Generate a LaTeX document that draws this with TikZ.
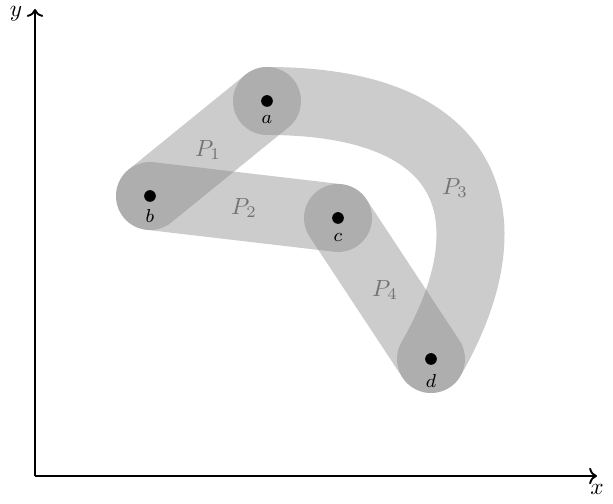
\documentclass[tikz,border=0pt]{standalone}
\usetikzlibrary{arrows.meta}
\begin{document}
\begin{tikzpicture}[x=0.4274pt,y=-0.4274pt,
  band/.style={draw=black!50,draw opacity=0.4,line width=29.06pt,line cap=round},
  dot/.style={circle,fill=black,inner sep=0pt,minimum size=5pt},
  ptlabel/.style={font=\footnotesize},
  plabel/.style={text=black!55},
  axis/.style={thick,->}]
\useasboundingbox (0,0) rectangle (613,504);
% points
\coordinate (a) at (267,101);
\coordinate (b) at (150,196);
\coordinate (c) at (338,218);
\coordinate (d) at (431,359);
% bands
\draw[band] (a) -- (b);
\draw[band] (b) -- (c);
\draw[band] (c) -- (d);
\draw[band] (a) .. controls (478,101) and (510,222) .. (d);
% dots
\node[dot] (na) at (a) {};
\node[dot] (nb) at (b) {};
\node[dot] (nc) at (c) {};
\node[dot] (nd) at (d) {};
\node[ptlabel] (la) at (267,119) {$a$};
\node[ptlabel] (lb) at (150,216) {$b$};
\node[ptlabel] (lc) at (338,237) {$c$};
\node[ptlabel] (ld) at (431,381) {$d$};
% band labels
\node[plabel] (p1) at (208,150) {$P_1$};
\node[plabel] (p2) at (244,208) {$P_2$};
\node[plabel] (p3) at (455,188) {$P_3$};
\node[plabel] (p4) at (385,290) {$P_4$};
% axes
\coordinate (O) at (35,476);
\coordinate (X) at (597,476);
\coordinate (Y) at (35,9);
\draw[axis] (O) -- (X);
\draw[axis] (O) -- (Y);
\node (xl) at (597,489) {$x$};
\node (yl) at (16,14) {$y$};
\end{tikzpicture}
\end{document}
